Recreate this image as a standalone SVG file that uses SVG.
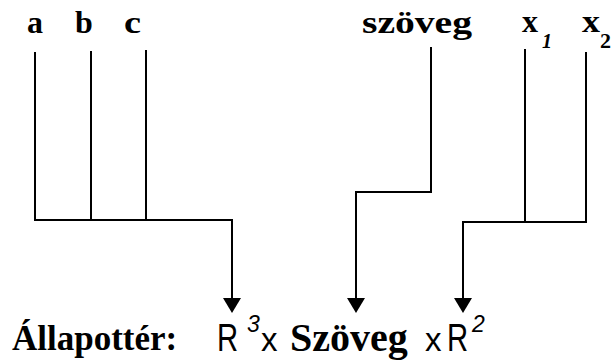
<svg xmlns="http://www.w3.org/2000/svg" width="616" height="362" viewBox="0 0 616 362">
<style>
.lbl{font-family:"Liberation Serif","Times New Roman",serif;font-weight:bold;font-size:32px;fill:#000}
.sub{font-family:"Liberation Serif","Times New Roman",serif;fill:#000}
.ser{font-family:"Liberation Serif","Times New Roman",serif;fill:#000}
.san{font-family:"Liberation Sans",Arial,sans-serif;fill:#000}
.wire{fill:none;stroke:#000;stroke-width:2}
</style>
<defs>
<marker id="ah" viewBox="0 0 15 18" refX="0" refY="9" markerWidth="15" markerHeight="18" markerUnits="userSpaceOnUse" orient="auto">
<path d="M0,0 L15,9 L0,18 Z" fill="#000"/>
</marker>
</defs>
<rect width="616" height="362" fill="#fff"/>
<g id="node-a"><text class="lbl" x="27" y="33">a</text></g>
<g id="node-b"><text class="lbl" x="75" y="33">b</text></g>
<g id="node-c"><text class="lbl" x="124" y="33" textLength="17" lengthAdjust="spacingAndGlyphs">c</text></g>
<g id="node-szoveg"><text class="lbl" x="362" y="33" textLength="110" lengthAdjust="spacingAndGlyphs">szöveg</text></g>
<g id="node-x1"><text class="lbl" x="522" y="32">x</text><text class="sub" x="542" y="48" font-size="20" font-style="italic" font-weight="bold">1</text></g>
<g id="node-x2"><text class="lbl" x="582" y="32" textLength="18" lengthAdjust="spacingAndGlyphs">x</text><text class="sub" x="600" y="48" font-size="22" font-weight="bold">2</text></g>
<g id="connectors">
<path class="wire" d="M35 52 V220 H232 V298" marker-end="url(#ah)"/>
<path class="wire" d="M91 51 V220"/>
<path class="wire" d="M146 50 V220"/>
<path class="wire" d="M431 47 V192 H356 V298" marker-end="url(#ah)"/>
<path class="wire" d="M586 52 V222 H463 V298" marker-end="url(#ah)"/>
<path class="wire" d="M525 49 V222"/>
</g>
<g id="node-allapotter">
<text class="ser" x="12" y="350" font-size="35" font-weight="bold">Állapottér:</text>
<text class="san" transform="translate(217,351) scale(0.75,1)" font-size="39">R</text>
<text class="san" x="247" y="332" font-size="23" font-style="italic">3</text>
<text class="san" x="261" y="351" font-size="33">x</text>
<text class="ser" x="290" y="351" font-size="40" font-weight="bold">Szöveg</text>
<text class="san" x="425" y="351" font-size="33">x</text>
<text class="san" transform="translate(447,351) scale(0.75,1)" font-size="39">R</text>
<text class="san" x="472" y="332" font-size="23" font-style="italic">2</text>
</g>
</svg>
